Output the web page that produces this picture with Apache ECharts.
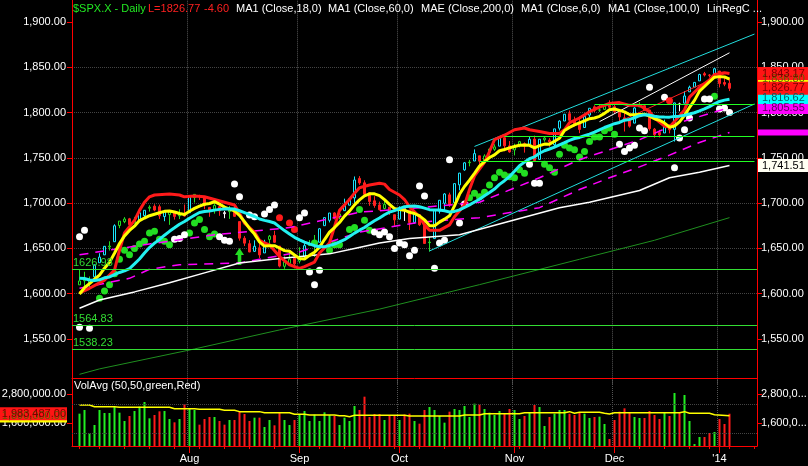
<!DOCTYPE html>
<html>
<head>
<meta charset="utf-8">
<title>$SPX.X - Daily</title>
<script src="https://cdn.jsdelivr.net/npm/echarts@6.0.0/dist/echarts.min.js"></script>
<style>
  html, body { margin: 0; padding: 0; background: #000; }
  #chart { width: 808px; height: 466px; }
</style>
</head>
<body>
<div id="chart"></div>
<script>
// ---- data ------------------------------------------------------------
// trading days shown (Jul 2013 - Jan 2014), then the empty days to the right edge
var tradingMonths = [
  [2013, 7,  [1,2,3,5,8,9,10,11,12,15,16,17,18,19,22,23,24,25,26,29,30,31]],
  [2013, 8,  [1,2,5,6,7,8,9,12,13,14,15,16,19,20,21,22,23,26,27,28,29,30]],
  [2013, 9,  [3,4,5,6,9,10,11,12,13,16,17,18,19,20,23,24,25,26,27,30]],
  [2013, 10, [1,2,3,4,7,8,9,10,11,14,15,16,17,18,21,22,23,24,25,28,29,30,31]],
  [2013, 11, [1,4,5,6,7,8,11,12,13,14,15,18,19,20,21,22,25,26,27,29]],
  [2013, 12, [2,3,4,5,6,9,10,11,12,13,16,17,18,19,20,23,24,26,27,30,31]],
  [2014, 1,  [2,3,6]]
];
var futureDays = [[2014, 1, [7,8,9,10,13]]];

// closes before Jul 1 (needed for the 6 and 18 day averages)
var juneCloses = [1622.56,1643.38,1642.81,1626.13,1612.52,1636.36,1626.73,1639.04,1651.81,
  1628.93,1588.19,1592.43,1573.09,1588.03,1603.26,1613.20,1606.28];

var opens = [1609.78,1614.29,1611.48,1618.65,1634.20,1642.89,1651.56,1657.41,1675.26,1679.59,
  1682.70,1677.91,1681.05,1686.15,1694.41,1696.63,1696.06,1685.21,1687.31,1690.32,
  1687.92,1687.76,1689.42,1706.10,1708.01,1705.79,1695.30,1693.35,1696.10,1688.37,
  1690.65,1693.88,1679.61,1661.22,1655.25,1646.81,1650.66,1645.03,1659.92,1664.29,
  1652.54,1630.25,1633.50,1640.08,1635.95,1640.72,1653.28,1657.44,1656.85,1675.11,
  1681.04,1689.21,1685.04,1691.70,1697.73,1705.74,1727.34,1722.44,1711.44,1702.60,
  1698.02,1694.05,1695.52,1687.26,1682.41,1691.90,1692.35,1678.79,1687.15,1676.22,
  1656.99,1660.88,1691.09,1699.86,1709.17,1700.49,1720.17,1736.72,1745.20,1746.48,
  1752.27,1747.48,1756.01,1759.42,1762.93,1772.27,1763.24,1758.70,1763.40,1765.67,
  1765.00,1770.74,1748.37,1769.96,1769.51,1764.37,1782.75,1790.66,1798.82,1790.79,
  1789.59,1783.52,1797.21,1806.33,1802.87,1803.48,1808.69,1806.55,1800.10,1794.15,
  1792.82,1788.36,1806.21,1807.60,1802.76,1781.71,1777.98,1777.48,1786.47,1781.46,
  1809.00,1810.39,1822.92,1828.02,1834.96,1842.97,1841.47,1842.61,1845.86,1833.21,
  1832.31];
var highs = [1626.61,1624.26,1618.97,1632.07,1644.68,1652.53,1657.92,1676.63,1680.19,1684.51,
  1683.73,1684.75,1693.12,1692.09,1697.61,1698.78,1698.38,1690.94,1691.85,1690.92,
  1693.19,1698.43,1707.85,1709.67,1709.24,1705.79,1695.30,1700.18,1699.42,1691.49,
  1696.81,1695.52,1679.61,1663.60,1659.18,1658.92,1656.99,1659.55,1664.85,1669.51,
  1652.54,1641.18,1646.41,1640.63,1651.35,1655.72,1659.17,1664.83,1672.40,1684.09,
  1689.13,1689.97,1688.73,1704.95,1705.52,1729.44,1729.86,1725.23,1711.44,1707.63,
  1701.71,1703.85,1695.52,1687.26,1696.55,1693.87,1692.35,1691.94,1687.15,1676.79,
  1662.47,1692.56,1703.44,1711.03,1711.57,1721.76,1733.45,1745.31,1747.79,1759.33,
  1752.27,1753.94,1759.82,1764.99,1772.09,1775.22,1768.53,1765.67,1768.78,1767.03,
  1773.74,1774.54,1770.78,1773.44,1771.78,1782.00,1791.53,1798.22,1802.33,1795.51,
  1795.73,1797.16,1804.84,1808.10,1808.42,1808.27,1813.55,1810.02,1800.10,1799.80,
  1792.82,1806.04,1811.52,1808.52,1802.97,1782.99,1780.92,1792.22,1786.77,1811.08,
  1810.88,1823.75,1829.75,1833.32,1842.84,1844.89,1842.47,1849.44,1845.86,1838.24,
  1837.16];
var lows = [1609.78,1606.77,1604.57,1614.71,1634.20,1642.89,1647.66,1657.41,1672.33,1677.89,
  1671.84,1677.91,1681.05,1684.08,1690.67,1691.13,1682.57,1680.07,1676.03,1681.86,
  1682.42,1684.94,1689.42,1700.68,1703.55,1693.29,1684.91,1688.38,1686.02,1683.35,
  1682.62,1684.83,1658.59,1652.61,1645.84,1646.08,1639.43,1645.03,1654.81,1656.02,
  1629.05,1627.47,1630.88,1628.05,1633.41,1637.41,1653.07,1640.62,1656.85,1675.11,
  1678.70,1681.96,1682.22,1691.70,1697.73,1700.35,1720.20,1708.89,1697.10,1694.90,
  1691.88,1693.11,1687.11,1674.99,1682.07,1680.34,1670.36,1677.33,1674.70,1655.03,
  1646.47,1660.88,1688.52,1692.13,1695.93,1700.49,1714.12,1735.74,1740.67,1746.48,
  1740.50,1745.50,1752.45,1757.67,1762.93,1757.24,1755.72,1752.70,1761.56,1755.76,
  1764.40,1746.20,1747.63,1767.85,1762.29,1760.64,1780.22,1790.66,1788.00,1784.72,
  1777.23,1783.52,1794.70,1800.58,1800.77,1802.77,1803.98,1798.60,1787.85,1779.09,
  1783.38,1788.36,1806.21,1801.75,1780.09,1772.28,1772.45,1777.48,1777.05,1767.99,
  1801.35,1810.25,1822.92,1828.02,1834.96,1839.81,1838.77,1842.41,1827.74,1829.13,
  1823.73];
var closes = [1614.08,1614.96,1615.41,1631.89,1640.46,1652.32,1652.62,1675.02,1680.19,1682.50,
  1676.26,1680.91,1689.37,1692.09,1695.53,1692.39,1685.94,1690.25,1691.65,1685.33,
  1685.96,1685.73,1706.87,1709.67,1707.14,1697.37,1690.91,1697.48,1691.42,1689.47,
  1694.16,1685.39,1661.32,1655.83,1646.06,1652.35,1642.80,1656.96,1663.50,1656.78,
  1630.48,1634.96,1638.17,1632.97,1639.77,1653.08,1655.08,1655.17,1671.71,1683.99,
  1689.13,1683.42,1687.99,1697.60,1704.76,1725.52,1722.34,1709.91,1701.84,1697.42,
  1692.77,1698.67,1691.75,1681.55,1695.00,1693.87,1678.66,1690.50,1676.12,1655.45,
  1656.40,1692.56,1703.20,1710.14,1698.06,1721.54,1733.15,1744.50,1744.66,1754.67,
  1746.38,1752.07,1759.77,1762.11,1771.95,1763.31,1756.54,1761.64,1767.93,1762.97,
  1770.49,1747.15,1770.61,1771.89,1767.69,1782.00,1790.62,1798.18,1791.53,1787.87,
  1781.37,1795.85,1804.76,1802.48,1802.75,1807.23,1805.81,1800.90,1795.15,1792.81,
  1785.03,1805.09,1808.37,1802.62,1782.22,1775.50,1775.32,1786.54,1781.00,1810.65,
  1809.60,1818.32,1827.99,1833.32,1842.02,1841.40,1841.07,1848.36,1831.98,1831.37,
  1826.77];
var volumes = [1986000,2138000,1159000,1517000,2138000,2014000,2014000,2262000,2027000,1683000,
  1890000,2096000,2276000,2469000,1793000,1931000,2083000,2096000,1765000,1628000,
  1765000,2386000,2179000,2138000,1531000,1765000,1848000,1848000,1683000,1531000,
  1724000,1724000,2069000,1972000,1683000,1821000,1821000,1434000,1724000,1504000,
  2055000,1724000,1517000,1724000,1959000,2096000,1683000,1945000,1683000,2041000,
  1931000,1890000,1517000,1821000,1683000,2303000,2138000,2689000,1848000,1972000,
  1972000,1724000,1931000,1931000,1724000,1950000,1986000,1683000,1572000,2138000,
  2262000,2138000,1890000,1614000,2069000,2179000,2138000,2303000,1848000,2400000,
  2358000,2179000,2027000,1931000,2096000,1972000,2179000,2138000,1765000,1890000,
  2014000,2345000,2262000,1476000,1848000,1986000,2138000,2138000,1986000,1931000,
  2027000,1986000,1807000,1848000,1862000,1559000,938000,1724000,2069000,2207000,
  2055000,1848000,1807000,1807000,2096000,1931000,1765000,2014000,1890000,2841000,
  2055000,2758000,1683000,731000,1021000,1021000,1186000,1228000,1765000,1559000,
  1983487];

// overlay lines: [bar index, value]
var redLine = [[0,1601],[2,1606],[4,1612],[5,1615],[7,1626],[8,1648],[9,1667],[11,1681],[12,1692],
  [13,1701],[14,1707],[15,1709],[18,1710],[20,1709],[21,1707],[23,1708],[25,1707],[27,1704],
  [29,1701],[31,1698],[32,1689],[33,1678],[35,1668],[36,1659],[37,1656],[38,1654],[40,1641],
  [42,1632],[44,1628],[45,1630],[47,1635],[48,1645],[50,1656],[51,1674],[52,1692],[54,1704],
  [55,1711],[56,1717],[58,1720],[60,1722],[61,1721],[62,1715],[64,1709],[65,1704],[66,1696],
  [68,1685],[69,1676],[70,1670],[72,1670],[74,1676],[75,1685],[77,1698],[78,1715],[79,1730],
  [81,1745],[82,1757],[83,1770],[85,1775],[87,1781],[89,1783],[90,1781],[92,1779],[94,1777],
  [96,1777],[97,1781],[98,1789],[100,1794],[102,1801],[104,1806],[106,1810],[108,1811],
  [110,1808],[112,1808],[114,1801],[115,1794],[117,1785],[118,1784],[119,1790],[121,1803],
  [122,1817],[124,1828],[126,1836],[127,1842],[129,1844],[130,1843.17]];
var ma100 = [[0,1584],[4,1593],[11,1602],[18,1612],[25,1623],[32,1634],[40,1639],[50,1644],
  [55,1650],[60,1656],[66,1661],[76,1665],[86,1680],[96,1695],[102,1701],[112,1714],[118,1728],
  [124,1734],[130,1741.51]];
var ma200 = [[0,1511],[4,1517],[23,1539],[40,1560],[60,1583],[80,1610],[100,1638],[115,1659],[130,1684]];
var envUpper = [[0,1643],[14,1655],[27,1665],[42,1673],[56,1690],[68,1695],[80,1701],[92,1728],
  [100,1748],[106,1759],[112,1770],[120,1789],[130,1805.55]];
var envLower = [[0,1606],[10,1617],[14,1627],[20,1632],[32,1634],[44,1646],[56,1668],[68,1679],
  [80,1684],[92,1695],[100,1715],[106,1728],[112,1740],[118,1753],[124,1767],[130,1778]];
var chanUpper = [[79,1762.6],[135,1886.7]];
var chanLower = [[70,1647.2],[135,1809.5]];
var whiteTrend = [[104,1790],[130,1866]];
var redTrend = [[102,1775],[129,1843]];
var avgVolume = [[0,2345000],[2,2345000],[3,2274000],[7,2274000],[8,2250000],[18,2250000],
  [19,2190000],[23,2190000],[24,2166000],[28,2166000],[29,2124000],[31,2124000],[32,2070000],
  [36,2070000],[37,2027000],[42,2027000],[43,1960000],[45,1960000],[46,1931000],[51,1931000],
  [52,1900000],[53,1900000],[54,1862000],[55,1917000],[65,1917000],[66,1890000],[76,1890000],
  [77,1931000],[80,1931000],[81,1986000],[88,1986000],[89,2027000],[97,2027000],[98,2069000],
  [99,2000000],[100,2041000],[104,2041000],[105,2000000],[106,1970000],[107,2027000],
  [120,2027000],[121,2069000],[122,2000000],[126,2000000],[127,1945000],[130,1900000]];

// dots
var greenDots = [[4,1595],[5,1603],[6,1610],[7,1622],[8,1638],[9,1648],[10,1643],[11,1650],
  [12,1655],[13,1658],[14,1667],[15,1669],[16,1660],[17,1658],[18,1654],[22,1667],[23,1678],
  [24,1682],[25,1671],[26,1663],[27,1666],[47,1656],[50,1648],[51,1654],[52,1654],[54,1671],
  [55,1673],[56,1693],[57,1681],[58,1670],[78,1706],[79,1711],[80,1707],[81,1712],[82,1720],
  [83,1728],[84,1734],[85,1731],[86,1729],[87,1728],[88,1737],[89,1733],[93,1743],[94,1739],
  [95,1734],[96,1754],[97,1764],[98,1761],[99,1759],[100,1751],[101,1757],[102,1768],[103,1773],
  [104,1773],[105,1780],[106,1783],[107,1776],[127,1818]];
var whiteDots = [[0,1663],[1,1670],[0,1563],[2,1562],[19,1660],[20,1661],[21,1665],[28,1663],
  [29,1659],[30,1658],[31,1721],[32,1707],[34,1687],[35,1685],[37,1688],[38,1693],[39,1698],
  [44,1684],[45,1689],[46,1624],[47,1610],[48,1626],[59,1668],[60,1665],[61,1668],[62,1663],
  [63,1650],[64,1656],[65,1654],[66,1642],[67,1648],[68,1719],[69,1708],[71,1628],[72,1656],
  [73,1659],[74,1748],[76,1678],[77,1699],[90,1743],[91,1722],[92,1722],[108,1765],[109,1757],
  [110,1761],[111,1764],[112,1783],[113,1780],[114,1828],[117,1817],[119,1739],[120,1772],
  [121,1781],[122,1794],[125,1815],[126,1815],[128,1804],[129,1805],[130,1800]];
var redDots = [[40,1684],[42,1678],[43,1671],[118,1813]];
var upArrows = [[32,1641]];

// horizontal levels
var fullLevels = [1626.98, 1564.83, 1538.23];
var partLevels = [[103,1809],[85,1774],[80,1746.5]]; // [start bar, level]

// axis ticks
var priceTicks = [1550,1600,1650,1700,1750,1800,1850,1900];
var volumeTicks = [1600000, 2800000];
var volumeGuides = [1190000, 2390000];

// price tags on the right axis, in drawing order
var priceTags = [1741.51, 1778.00, 1805.55, 1816.62, 1836.80, 1843.17, 1826.77];
var volumeTags = [1890000, 1983487];

// ---- build ------------------------------------------------------------
var monthNames = ['Jan','Feb','Mar','Apr','May','Jun','Jul','Aug','Sep','Oct','Nov','Dec'];
var LEAD = 1;
var categories = [''], weekStart = [false], monthStart = [false], monthLabel = [''];
var prev = null;
tradingMonths.concat(futureDays).forEach(function (m) {
  m[2].forEach(function (d) {
    var dt = new Date(m[0], m[1] - 1, d);
    var newMonth = prev !== null && prev.getMonth() !== dt.getMonth();
    var newWeek = prev === null || dt.getDay() <= prev.getDay() || (dt - prev) > 4 * 864e5;
    categories.push(m[0] + '-' + m[1] + '-' + d);
    weekStart.push(newWeek);
    monthStart.push(newMonth);
    monthLabel.push(newMonth ? (m[1] === 1 ? "'" + String(m[0]).slice(2) : monthNames[m[1] - 1]) : '');
    prev = dt;
  });
});
var LASTK = categories.length - 1;

function fmtNum(v, dec) {
  var p = v.toFixed(dec).split('.');
  p[0] = p[0].replace(/\B(?=(\d{3})+(?!\d))/g, ',');
  return p.join('.');
}
function pts(arr) {
  return arr.map(function (p) { return [p[0] + LEAD, p[1]]; });
}
function movingAvg(period) {
  var all = juneCloses.concat(closes), off = juneCloses.length;
  return closes.map(function (c, i) {
    var s = 0;
    for (var k = off + i - period + 1; k <= off + i; k++) s += all[k];
    return [i + LEAD, +(s / period).toFixed(2)];
  });
}

var candleData = ['-'];
var volData = ['-'];
closes.forEach(function (c, i) {
  var pc = i === 0 ? juneCloses[juneCloses.length - 1] : closes[i - 1];
  var up = c >= pc, hollow = c >= opens[i];
  var col;
  if (up) col = (hollow && c - opens[i] > 5) ? '#19e6ff' : '#22dd22';
  else col = hollow ? '#ffffff' : '#ff2020';
  candleData.push({
    value: [opens[i], c, lows[i], highs[i]],
    itemStyle: { color: hollow ? '#000' : col, color0: hollow ? '#000' : col,
                 borderColor: col, borderColor0: col, borderWidth: 1, opacity: 1 }
  });
  volData.push({ value: volumes[i], itemStyle: { color: up ? '#22ee22' : '#ff1a1a', opacity: 1 } });
});

var FONT = 'Liberation Sans, Arial, sans-serif';
var RED = '#ff0000';
var PX_TOP = 22, PX_PER = 0.9057; // 1,900.00 sits at y=22
var yMin = 1500, yMax = 1950;

function lineSeries(data, color, width, extra) {
  var s = {
    type: 'line', xAxisIndex: 0, yAxisIndex: 0, data: data, symbol: 'none', silent: true,
    animation: false, lineStyle: { color: color, width: width, opacity: 1 }
  };
  for (var k in extra) s[k] = extra[k];
  return s;
}
function dotSeries(data, color, size, symbol) {
  return { type: 'scatter', xAxisIndex: 0, yAxisIndex: 0, data: pts(data), symbol: symbol || 'circle',
           symbolSize: size, silent: true, animation: false,
           itemStyle: { color: color, opacity: 1, borderWidth: 0 } };
}

var chart = echarts.init(document.getElementById('chart'));

var option = {
  backgroundColor: '#000',
  animation: false,
  textStyle: { fontFamily: FONT },
  grid: [
    { left: 72, right: 51, top: PX_TOP - (yMax - 1900) * PX_PER, height: (yMax - yMin) * PX_PER, outerBoundsMode: 'none' },
    { left: 72, right: 51, top: 378, height: 68, outerBoundsMode: 'none' }
  ],
  xAxis: [
    { type: 'category', gridIndex: 0, data: categories, boundaryGap: true,
      axisLine: { show: false }, axisTick: { show: false }, axisLabel: { show: false },
      splitLine: { show: true, interval: function (i) { return monthStart[i]; },
                   lineStyle: { color: '#555', type: 'dotted', width: 1 } } },
    { type: 'category', gridIndex: 1, data: categories, boundaryGap: true, position: 'bottom',
      axisLine: { show: true, lineStyle: { color: RED, width: 1 } },
      axisTick: { show: true, alignWithLabel: true, length: 3, lineStyle: { color: RED },
                  interval: function (i) { return weekStart[i]; } },
      axisLabel: { show: true, color: '#fff', fontSize: 11, margin: 7,
                   interval: function (i) { return monthStart[i]; },
                   formatter: function (v, i) { return monthLabel[i]; } },
      splitLine: { show: true, interval: function (i) { return monthStart[i]; },
                   lineStyle: { color: '#555', type: 'dotted', width: 1 } } },
    { type: 'category', gridIndex: 1, data: categories, boundaryGap: true, position: 'top',
      axisLine: { show: true, lineStyle: { color: RED, width: 1 } },
      axisTick: { show: false }, axisLabel: { show: false }, splitLine: { show: false } },
    { type: 'category', gridIndex: 1, data: categories, boundaryGap: true, position: 'bottom',
      axisLine: { show: false },
      axisTick: { show: true, alignWithLabel: true, length: 7, lineStyle: { color: RED },
                  interval: function (i) { return monthStart[i]; } },
      axisLabel: { show: false }, splitLine: { show: false } }
  ],
  yAxis: [
    { type: 'value', gridIndex: 0, min: yMin, max: yMax, interval: 50, position: 'left',
      axisLine: { show: true, lineStyle: { color: RED } },
      axisTick: { show: true, length: 5, lineStyle: { color: RED }, customValues: priceTicks },
      axisLabel: { color: '#fff', fontSize: 11, margin: 6, customValues: priceTicks,
                   formatter: function (v) { return fmtNum(v, 2); } },
      splitLine: { show: true, showMinLine: false, showMaxLine: false,
                   lineStyle: { color: '#444', type: 'dotted' } } },
    { type: 'value', gridIndex: 0, min: yMin, max: yMax, interval: 50, position: 'right',
      axisLine: { show: true, lineStyle: { color: RED } },
      axisTick: { show: true, length: 5, lineStyle: { color: RED }, customValues: priceTicks },
      axisLabel: { color: '#fff', fontSize: 11, margin: 4, customValues: priceTicks,
                   formatter: function (v) { return fmtNum(v, 2); } },
      splitLine: { show: false } },
    { type: 'value', gridIndex: 1, min: 648000, max: 3462000, position: 'left',
      axisLine: { show: true, lineStyle: { color: RED } },
      axisTick: { show: true, length: 5, lineStyle: { color: RED }, customValues: volumeTicks },
      axisLabel: { color: '#fff', fontSize: 11, margin: 6, customValues: volumeTicks,
                   formatter: function (v) { return fmtNum(v, 2); } },
      splitLine: { show: false } },
    { type: 'value', gridIndex: 1, min: 648000, max: 3462000, position: 'right',
      axisLine: { show: true, lineStyle: { color: RED } },
      axisTick: { show: true, length: 5, lineStyle: { color: RED }, customValues: volumeTicks },
      axisLabel: { color: '#fff', fontSize: 11, margin: 4, customValues: volumeTicks,
                   formatter: function (v) { return fmtNum(v, 2).slice(0, 7) + '...'; } },
      splitLine: { show: false } }
  ],
  series: [
    lineSeries(pts(ma200), '#1f8f1f', 1),
    lineSeries(pts(envUpper), '#ff00ff', 1.5, { lineStyle: { color: '#ff00ff', width: 1.5, type: [9, 7] } }),
    lineSeries(pts(envLower), '#ff00ff', 1.5, { lineStyle: { color: '#ff00ff', width: 1.5, type: [9, 7] } }),
    lineSeries(pts(chanUpper), '#22dddd', 1),
    lineSeries(pts(chanLower), '#22dddd', 1),
    lineSeries(pts(whiteTrend), '#ffffff', 1),
    lineSeries(pts(redTrend), '#ff2020', 1),
    lineSeries(pts(ma100), '#ffffff', 1.5),
    {
      type: 'candlestick', xAxisIndex: 0, yAxisIndex: 0, data: candleData, barWidth: 3,
      silent: true, animation: false,
      markLine: {
        silent: true, symbol: 'none', animation: false,
        lineStyle: { color: '#33dd33', width: 1, type: 'solid' },
        label: { show: true, position: 'insideStartTop', color: '#33dd33', fontSize: 11,
                 distance: [1, 1], formatter: function (p) { return p.value.toFixed(2); } },
        data: fullLevels.map(function (v) { return { yAxis: v }; }).concat(
          partLevels.map(function (p) {
            return [{ coord: [p[0] + LEAD, p[1]], label: { show: false }, lineStyle: { color: '#22ff22' } },
                    { coord: [LASTK, p[1]], label: { show: false } }];
          }))
      }
    },
    lineSeries(pts(redLine), '#ff1a1a', 3),
    lineSeries(movingAvg(6), '#ffff00', 3),
    lineSeries(movingAvg(18), '#22f0f0', 3),
    dotSeries(greenDots, '#22dd22', 7),
    dotSeries(whiteDots, '#ffffff', 7),
    dotSeries(redDots, '#ff1a1a', 7),
    dotSeries(upArrows, '#22dd22', [9, 17], 'path://M5,0 L10,7 L7,7 L7,17 L3,17 L3,7 L0,7 Z'),
    {
      type: 'bar', xAxisIndex: 1, yAxisIndex: 2, data: volData, barWidth: 2, silent: true, animation: false,
      markLine: {
        silent: true, symbol: 'none', animation: false, label: { show: false },
        lineStyle: { color: '#444', type: 'dotted', width: 1 },
        data: volumeGuides.map(function (v) { return { yAxis: v }; })
      }
    },
    { type: 'line', xAxisIndex: 1, yAxisIndex: 2, data: pts(avgVolume), symbol: 'none', silent: true,
      animation: false, lineStyle: { color: '#ffff00', width: 1.5, opacity: 1 } }
  ]
};
chart.setOption(option);

// ---- header texts and axis tags ------------------------------------------
var header = [
  ['$SPX.X - Daily', 73, '#22e822'], ['L=1826.77', 148, '#ff2020'], ['-4.60', 204, '#ff2020'],
  ['MA1 (Close,18,0)', 236, '#fff'], ['MA1 (Close,60,0)', 328, '#fff'],
  ['MAE (Close,200,0)', 421, '#fff'], ['MA1 (Close,6,0)', 521, '#fff'],
  ['MA1 (Close,100,0)', 608, '#fff'], ['LinRegC ...', 707, '#fff']
];
var priceTagLook = [
  { fill: '#fffff2', text: '#000', h: 13 },
  { fill: '#ff00ff', text: null, h: 6 },
  { fill: '#ff00ff', text: '#5a005a', h: 13 },
  { fill: '#00ffff', text: '#006060', h: 13 },
  { fill: '#ffff00', text: '#606000', h: 13 },
  { fill: '#ff1414', text: '#7a0000', h: 13 },
  { fill: '#ff1414', text: '#7a0000', h: 13 }
];
var volumeTagLook = [
  { fill: '#ffff00', text: '#606000' },
  { fill: '#ff1414', text: '#7a0000' }
];

function textEl(str, x, y, color, align) {
  return { type: 'text', x: x, y: y, silent: true, z: 100,
           style: { text: str, fill: color, font: '11px ' + FONT,
                    textAlign: align || 'left', align: align || 'left',
                    textVerticalAlign: 'middle', verticalAlign: 'middle' } };
}

var graphics = [];
header.forEach(function (h) { graphics.push(textEl(h[0], h[1], 9, h[2])); });
graphics.push(textEl('VolAvg (50,50,green,Red)', 74, 386, '#fff'));

priceTags.forEach(function (v, i) {
  var y = chart.convertToPixel({ yAxisIndex: 0 }, v);
  var look = priceTagLook[i];
  graphics.push({ type: 'rect', silent: true, z: 99,
                  shape: { x: 758, y: y - look.h / 2, width: 50, height: look.h },
                  style: { fill: look.fill } });
  if (look.text) graphics.push(textEl(fmtNum(v, 2), 762, y, look.text));
});
volumeTags.forEach(function (v, i) {
  var y = chart.convertToPixel({ yAxisIndex: 2 }, v);
  var look = volumeTagLook[i];
  graphics.push({ type: 'rect', silent: true, z: 99,
                  shape: { x: 0, y: y - 6.5, width: 67, height: 13 },
                  style: { fill: look.fill } });
  graphics.push(textEl(fmtNum(v, 2), 66, y, look.text, 'right'));
});

chart.setOption({ graphic: graphics });
</script>
</body>
</html>
